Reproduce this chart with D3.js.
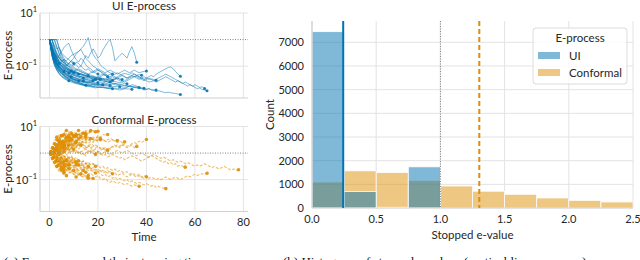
<!DOCTYPE html>
<html>
<head>
<meta charset="utf-8">
<script src="https://cdn.jsdelivr.net/npm/d3@7"></script>
<style>
  body { margin: 0; background: #fff; }
  svg { font-family: Lato, "Open Sans", sans-serif; }
  .tick text, .lbl { fill: #262626; }
</style>
</head>
<body>
<svg id="chart" width="640" height="260"></svg>
<script>
// E-process trajectories, log10 of the e-value at t = 0, 1, 2, ...
var uiPaths = [
  [0,-0.3,-0.55,-0.75,-0.9,-1.0,-1.1,-1.2,-1.25],
  [0,0,0,-0.25,-0.5,-0.7,-0.8,-0.95,-1.0,-1.1,-1.15,-1.2,-1.3],
  [0,-0.4,-0.7,-0.9,-1.05,-1.15,-1.25,-1.3,-1.38,-1.45,-1.5,-1.55,-1.6,-1.65,-1.68,-1.72],
  [0,0,-0.2,-0.35,-0.3,-0.5,-0.6,-0.7,-0.75,-0.85,-0.9],
  [0,0,0,0,-0.3,-0.55,-0.7,-0.85,-0.9,-0.95,-1.0,-0.85,-0.9,-1.0,-0.8,-0.6,-0.7,-0.5,-0.35,-0.5,-0.7,-0.6,-0.4,-0.25,-0.1,0.0,-0.3,-0.8,-0.7,-0.6,-0.52,-0.6,-0.7,-0.45,-0.27,-0.5,-0.85],
  [0,0,-0.3,-0.5,-0.65,-0.8,-0.85,-0.95,-0.9,-0.8,-0.7,-0.55,-0.45,-0.35,-0.25,-0.1,0.07,-0.3,-0.55,-0.7,-0.8,-0.95,-1.05,-1.1,-1.2,-1.25,-1.3],
  [0,-0.3,-0.55,-0.7,-0.6,-0.45,-0.3,-0.2,-0.14,-0.4,-0.6,-0.75,-0.85,-0.7,-0.8,-0.95,-1.05,-1.1,-1.2,-1.25,-1.3],
  [0,-0.35,-0.6,-0.8,-0.9,-0.85,-0.75,-0.8,-0.7,-0.6,-0.55,-0.5,-0.45,-0.37,-0.55,-0.7,-0.8,-0.9,-1.0,-1.05,-1.15,-1.2,-1.3,-1.35,-1.4],
  [0,-0.4,-0.65,-0.85,-1.0,-1.1,-1.15,-1.2,-1.25,-1.3,-1.32,-1.35,-1.4,-1.38,-1.42,-1.45,-1.4,-1.45,-1.5,-1.48,-1.5,-1.52,-1.48,-1.5,-1.45,-1.5,-1.55,-1.5,-1.45,-1.4,-1.35,-1.4,-1.45,-1.4,-1.35,-1.3,-1.35,-1.4,-1.45,-1.5,-1.45,-1.4,-1.35,-1.4,-1.3,-1.25,-1.2,-1.15,-1.1,-1.05,-1.03,-1.1,-1.2,-1.3,-1.38],
  [0,-0.45,-0.75,-0.95,-1.1,-1.2,-1.3,-1.35,-1.4,-1.45,-1.5,-1.52,-1.55,-1.58,-1.6,-1.62,-1.6,-1.58,-1.55,-1.5,-1.48,-1.45,-1.5,-1.55,-1.5,-1.45,-1.4,-1.45,-1.5,-1.55,-1.6,-1.55,-1.5,-1.45,-1.4,-1.38,-1.4,-1.45,-1.5,-1.55,-1.5,-1.45,-1.5,-1.55,-1.6,-1.55,-1.5,-1.45,-1.4,-1.45,-1.5,-1.55,-1.6,-1.55,-1.6,-1.65,-1.6,-1.65,-1.7,-1.75,-1.7,-1.75,-1.8,-1.78,-1.84],
  [0,-0.5,-0.8,-1.0,-1.15,-1.25,-1.35,-1.42,-1.48,-1.52,-1.55,-1.6,-1.62,-1.65,-1.68,-1.7,-1.72,-1.7,-1.68,-1.7,-1.72,-1.75,-1.72,-1.7,-1.65,-1.6,-1.55,-1.5,-1.45,-1.5,-1.55,-1.6,-1.55,-1.5,-1.45,-1.4,-1.35,-1.4,-1.45,-1.5,-1.55,-1.6,-1.58,-1.55,-1.5,-1.45,-1.4,-1.35,-1.3,-1.35,-1.4,-1.45,-1.5,-1.55,-1.6,-1.65,-1.7,-1.75,-1.7,-1.75,-1.8,-1.85,-1.82,-1.88,-1.9,-1.93],
  [0,-0.5,-0.85,-1.05,-1.2,-1.3,-1.38,-1.45,-1.5,-1.55,-1.6,-1.63,-1.66,-1.7,-1.72,-1.74,-1.76,-1.78,-1.8,-1.82,-1.8,-1.78,-1.8,-1.82,-1.84,-1.85,-1.83,-1.86,-1.88,-1.9,-1.88,-1.85,-1.8,-1.75,-1.7,-1.72,-1.75,-1.8,-1.85,-1.9,-1.88,-1.85,-1.9,-1.92,-1.95,-1.93,-1.95,-1.98,-2.0,-1.98,-2.0,-2.02,-2.03,-2.05,-2.07],
  [0,-0.45,-0.7,-0.9,-1.0,-1.1,-1.15,-1.2,-1.25,-1.3,-1.35,-1.38,-1.4,-1.45,-1.48,-1.5,-1.52,-1.55,-1.5,-1.45,-1.4,-1.35,-1.3,-1.35,-1.4,-1.45,-1.5,-1.45,-1.4,-1.35,-1.3,-1.28,-1.3,-1.32,-1.25,-1.3,-1.35,-1.32,-1.34],
  [0,-0.3,-0.55,-0.75,-0.9,-1.0,-1.05,-1.1,-1.15,-1.2,-1.22,-1.25,-1.3,-1.28,-1.32,-1.35,-1.38,-1.4,-1.38,-1.42,-1.45,-1.4,-1.35,-1.3,-1.35,-1.4,-1.35,-1.3,-1.25,-1.3,-1.35,-1.4,-1.45,-1.4,-1.35,-1.4,-1.45,-1.5,-1.45,-1.4,-1.45,-1.5,-1.48,-1.5,-1.53],
  [0,-0.55,-0.9,-1.1,-1.25,-1.35,-1.42,-1.48,-1.52,-1.56,-1.6,-1.63,-1.65,-1.68,-1.7,-1.72,-1.7,-1.73,-1.75,-1.72,-1.7,-1.68,-1.65,-1.6,-1.55,-1.6,-1.65,-1.7,-1.72,-1.75,-1.78,-1.8,-1.78,-1.75,-1.78,-1.8,-1.82,-1.85,-1.83,-1.85,-1.87,-1.85,-1.88,-1.89,-1.9],
  [0,-0.4,-0.7,-0.9,-1.05,-1.15,-1.25,-1.32,-1.38,-1.42,-1.46,-1.5,-1.53,-1.55,-1.58,-1.6,-1.62,-1.6,-1.58,-1.55,-1.58,-1.6,-1.63,-1.65,-1.68,-1.7,-1.68,-1.65,-1.68,-1.7,-1.72,-1.74,-1.75,-1.77,-1.78,-1.8,-1.79,-1.81,-1.82,-1.83],
  [0,-0.6,-0.95,-1.15,-1.3,-1.4,-1.47,-1.52,-1.56,-1.6,-1.63,-1.66,-1.68,-1.7,-1.72,-1.74,-1.75,-1.76,-1.77,-1.78,-1.79,-1.8,-1.78,-1.8,-1.82,-1.8,-1.82,-1.83,-1.84,-1.85,-1.84,-1.85,-1.86,-1.86,-1.87],
  [0,-0.5,-0.8,-1.0,-1.15,-1.25,-1.33,-1.4,-1.45,-1.48,-1.52,-1.55,-1.58,-1.6,-1.62,-1.64,-1.66,-1.68,-1.69,-1.7,-1.71,-1.72,-1.73,-1.74,-1.75,-1.76,-1.76,-1.77,-1.77,-1.78],
  [0,-0.45,-0.75,-0.95,-1.1,-1.2,-1.28,-1.35,-1.4,-1.45,-1.48,-1.52,-1.55,-1.57,-1.59,-1.61,-1.63,-1.64,-1.66,-1.67,-1.68,-1.69,-1.7],
  [0,-0.35,-0.6,-0.8,-0.95,-1.05,-1.12,-1.18,-1.24,-1.3,-1.34,-1.38,-1.42,-1.45,-1.48,-1.5,-1.52,-1.54,-1.55],
  [0,-0.4,-0.7,-0.9,-1.05,-1.15,-1.2],
  [0,0,0,-0.3,-0.55,-0.75,-0.9,-1.0,-1.1,-1.18,-1.25,-1.3,-1.36,-1.4,-1.45],
  [0,-0.3,-0.55,-0.75,-0.9,-1.0,-1.08,-1.15,-1.2,-1.25,-1.3,-1.33,-1.36,-1.4,-1.42,-1.45,-1.47,-1.5,-1.48,-1.5,-1.52,-1.55,-1.56,-1.58,-1.59,-1.6],
  [0,0,-0.3,-0.6,-0.9],
  [0,-0.5,-0.8,-1.0,-1.12,-1.2,-1.27,-1.32,-1.36,-1.4],
  [0,-0.6,-0.9,-1.1,-1.2,-1.28,-1.35,-1.4,-1.44,-1.48,-1.5,-1.53,-1.55],
  [0,-0.25,-0.45,-0.6,-0.7,-0.8,-0.75,-0.85,-0.95,-1.0,-1.05,-1.1,-1.15,-1.2,-1.25,-1.3,-1.35],
  [0,-0.3,-0.5,-0.65,-0.8,-0.9,-0.95,-1.0,-0.9,-0.8,-0.85,-0.95,-1.05,-1.0,-1.1,-1.15,-1.1,-1.2,-1.25,-1.2,-1.15,-1.2,-1.25,-1.3,-1.35,-1.3,-1.35,-1.4,-1.45,-1.48,-1.5],
  [0,-0.35,-0.6,-0.8,-0.95,-1.05,-1.1,-1.15,-1.2,-1.25,-1.2,-1.15,-1.1,-1.15,-1.2,-1.25,-1.3,-1.25,-1.2,-1.15,-1.1,-1.15,-1.2,-1.25,-1.2,-1.15,-1.2,-1.25,-1.3,-1.25,-1.2,-1.15,-1.2,-1.25,-1.2,-1.15,-1.2,-1.25,-1.22,-1.2,-1.18],
  [0,-0.2,-0.45,-0.65,-0.8,-0.92,-1.0,-1.08,-1.15,-1.2,-1.25],
  [0,-0.5,-0.75,-0.92,-1.05,-1.15,-1.22,-1.28,-1.33,-1.38,-1.42,-1.45,-1.48,-1.5,-1.52,-1.55,-1.57,-1.6,-1.6,-1.62,-1.63],
  [0,0,-0.25,-0.5,-0.7,-0.85,-0.95,-1.05,-1.12,-1.18],
  [0,-0.35,-0.65,-0.85,-1.0,-1.12,-1.2,-1.27,-1.33,-1.38,-1.43,-1.47,-1.5,-1.53,-1.56,-1.58,-1.6,-1.62,-1.64,-1.66,-1.67,-1.68,-1.7,-1.71,-1.72,-1.73],
  [0,-0.4,-0.65,-0.8,-0.9,-0.98,-1.05,-1.1,-1.15,-1.18,-1.22,-1.25,-1.28,-1.3,-1.32,-1.35,-1.37,-1.4,-1.42,-1.44,-1.45,-1.47,-1.5,-1.52,-1.53,-1.55,-1.57,-1.58,-1.6,-1.62,-1.63,-1.65,-1.66],
  [0,-0.25,-0.5,-0.68,-0.82,-0.9,-0.98,-1.05,-1.1,-1.15,-1.2,-1.22,-1.26,-1.3,-1.33,-1.36,-1.38,-1.4,-1.42,-1.45,-1.47,-1.49],
  [0,-0.6,-0.95,-1.15,-1.28,-1.38,-1.45,-1.5,-1.55],
  [0,-0.3,-0.5,-0.7,-0.85,-0.95,-1.02,-1.1,-1.15,-1.2,-1.25,-1.28,-1.3,-1.33,-1.35,-1.38,-1.4,-1.43,-1.45,-1.47,-1.5,-1.52,-1.55,-1.57,-1.6,-1.62,-1.64,-1.65,-1.67,-1.68,-1.7,-1.72,-1.73,-1.75,-1.76,-1.78,-1.79,-1.8],
  [0,0,0,0,-0.35,-0.6,-0.8,-0.95,-1.05,-1.12,-1.18,-1.23,-1.28,-1.32,-1.36,-1.4,-1.43,-1.46,-1.48,-1.5],
  [0,-0.45,-0.72,-0.9,-1.02,-1.1,-1.18,-1.24,-1.3,-1.35,-1.4,-1.44,-1.48,-1.52,-1.55],
  [0,-0.15,-0.35,-0.55,-0.7,-0.8,-0.88,-0.95,-1.0,-1.05,-1.1,-1.14,-1.18,-1.22,-1.25,-1.28,-1.31,-1.34,-1.37,-1.4,-1.42,-1.44,-1.46,-1.48,-1.5,-1.52,-1.53],
  [0,-0.55,-0.85,-1.05,-1.18,-1.28,-1.36,-1.43,-1.48,-1.53,-1.57,-1.6,-1.63,-1.66,-1.68,-1.7,-1.72,-1.74,-1.76,-1.78,-1.79,-1.8,-1.81,-1.82,-1.83,-1.84,-1.85]
];

var confPaths = [
  [0,0.15,0.3,0.45,0.55,0.66],
  [0,0.1,0.25,0.2,0.35,0.45,0.5,0.6,0.68],
  [0,-0.1,0.05,0.2,0.3,0.25,0.4,0.5,0.45,0.55,0.6,0.65,0.7,0.68,0.72,0.73],
  [0,0.1,0.2,0.15,0.3,0.4,0.35,0.5,0.55,0.6,0.58,0.65,0.7,0.72,0.75,0.7,0.75,0.78,0.8,0.78,0.82],
  [0,-0.15,-0.3,-0.4,-0.5,-0.55,-0.6,-0.65,-0.7,-0.75,-0.8,-0.85,-0.82,-0.88,-0.9,-0.92,-0.95,-0.93,-0.96],
  [0,-0.2,-0.35,-0.5,-0.6,-0.72,-0.8,-0.85],
  [0,0.2,0.35,0.5,0.45],
  [0,-0.1,-0.2,-0.3,-0.25,-0.4,-0.5,-0.45,-0.55,-0.6,-0.65],
  [0,0.1,0.0,0.15,0.25,0.2,0.3],
  [0,0.05,-0.1,-0.05,0.1,0.0,0.15,0.25,0.3,0.2,0.35,0.4],
  [0,-0.05,0.1,0.2,0.15,0.3,0.25,0.4,0.5,0.45,0.55,0.6,0.55,0.62],
  [0,-0.2,-0.1,-0.25,-0.35,-0.3,-0.45,-0.4,-0.5,-0.55,-0.5,-0.6,-0.65,-0.7,-0.68,-0.72],
  [0,0.15,0.1,0.25,0.4,0.35,0.5,0.6,0.55,0.65,0.7,0.65],
  [0,-0.1,-0.25,-0.2,-0.35,-0.3,-0.4],
  [0,0.1,0.2,0.1,0.25,0.3,0.2,0.35,0.3,0.4,0.35,0.45,0.5,0.45,0.55,0.5,0.6,0.55],
  [0,-0.05,0.05,-0.1,-0.2,-0.15,-0.3,-0.25,-0.35,-0.4,-0.35,-0.45,-0.5,-0.45,-0.55,-0.6,-0.55,-0.65,-0.7,-0.75],
  [0,0.1,0.05,0.15,0.1,0.2,0.3,0.25,0.35,0.3,0.4,0.35,0.3,0.4,0.45,0.4,0.5,0.45,0.55,0.5,0.45,0.5],
  [0,0.1,0.2,0.3,0.25,0.4],
  [0,-0.1,-0.2,-0.15,-0.3,-0.4,-0.35,-0.5,-0.45],
  [0,0.05,0.1,0.2,0.15,0.25,0.35,0.3,0.4,0.5],
  [0,0.1,-0.05,0.05,-0.1,0.0,-0.15,-0.05,-0.2,-0.1,-0.25,-0.15,-0.3],
  [0,-0.15,-0.25,-0.35,-0.3,-0.45,-0.55,-0.5,-0.6,-0.7,-0.65,-0.75,-0.8,-0.78],
  [0,0.15,0.25,0.2,0.35,0.3,0.45,0.55,0.5,0.6,0.58,0.62,0.7,0.65,0.6,0.68],
  [0,0.05,0.15,0.1,0.2,0.25,0.2,0.3,0.28,0.35,0.3,0.25,0.3,0.35,0.3,0.25,0.3,0.2,0.25,0.3,0.25,0.2,0.15,0.2,0.1],
  [0,-0.1,0.0,0.1,0.05,-0.05,0.1,0.15,0.05,0.2,0.1,0.0,0.05,-0.05,0.0,-0.1,0.05,0.1,0.0,-0.05],
  [0,0.1,0.2,0.15,0.3,0.35,0.3,0.45,0.4,0.55,0.5,0.6,0.7,0.65,0.75],
  [0,-0.1,-0.05,-0.15,-0.1,-0.2,-0.3,-0.25,-0.35,-0.3,-0.25,-0.35,-0.4,-0.35,-0.45,-0.4,-0.5],
  [0,0.1,0.05,-0.05,0.05,0.15,0.1,0.2,0.1,0.05,0.15],
  [0,0.05,0.0,0.1,0.05,0.15,0.2,0.1,0.2,0.25,0.35,0.3,0.4,0.35,0.45,0.5,0.55,0.5,0.6,0.55,0.65,0.6,0.7,0.68,0.7],
  [0,0.1,0.05,0.15,0.1,0.2,0.15,0.25,0.2,0.3,0.25,0.35,0.3,0.25,0.35,0.4,0.35,0.45,0.4,0.5,0.45,0.55,0.5,0.45,0.5,0.55,0.5,0.45,0.47],
  [0,-0.05,0.05,0.0,0.1,0.05,0.15,0.1,0.2,0.15,0.25,0.2,0.15,0.25,0.3,0.2,0.25,0.35,0.3,0.2,0.25,0.15,0.2,0.1,0.15,0.2,0.25,0.3,0.25,0.2,0.3,0.25,0.2,0.25,0.3,0.2,0.25],
  [0,0.05,0.1,0.05,0.15,0.1,0.2,0.15,0.1,0.2,0.25,0.2,0.3,0.25,0.2,0.15,0.25,0.2,0.1,0.15,0.05,0.1,0.15,0.1,0.2,0.15,0.25,0.2,0.3,0.25,0.35,0.3,0.25,0.3,0.35,0.4,0.35,0.45,0.4,0.45,0.51],
  [0,-0.1,-0.05,-0.15,-0.2,-0.15,-0.25,-0.3,-0.25,-0.35,-0.4,-0.35,-0.45,-0.5,-0.45,-0.55,-0.6,-0.55,-0.65,-0.6,-0.7,-0.65,-0.75,-0.7,-0.65,-0.75,-0.8,-0.75,-0.85,-0.8,-0.75,-0.85,-0.9,-0.85,-0.8,-0.85,-0.9,-0.85,-0.9,-0.95,-0.89],
  [0,-0.1,-0.2,-0.15,-0.3,-0.35,-0.3,-0.45,-0.5,-0.45,-0.55,-0.6,-0.65,-0.6,-0.7,-0.75,-0.8,-0.75,-0.85,-0.9,-0.85,-0.95,-1.0,-0.95,-1.05,-1.1,-1.05,-1.1,-1.15,-1.1,-1.15,-1.2,-1.15,-1.2,-1.25,-1.2,-1.22,-1.25],
  [0,-0.05,-0.15,-0.1,-0.2,-0.25,-0.2,-0.3,-0.35,-0.4,-0.35,-0.45,-0.5,-0.55,-0.5,-0.6,-0.65,-0.6,-0.7,-0.75,-0.7,-0.8,-0.85,-0.8,-0.9,-0.85,-0.95,-0.9,-1.0,-0.95,-1.0,-1.05,-1.0,-1.1,-1.05,-1.1,-1.15,-1.1,-1.15,-1.2,-1.15,-1.2,-1.25,-1.2,-1.3,-1.25,-1.3,-1.32,-1.34],
  [0,0.05,-0.05,0.0,0.1,0.05,0.0,0.1,0.15,0.1,0.05,0.1,0.0,0.05,-0.05,0.0,0.1,0.05,0.0,-0.05,0.05,0.0,-0.1,-0.05,-0.15,-0.1,-0.05,-0.1,-0.15,-0.2,-0.15,-0.25,-0.2,-0.15,-0.1,-0.15,-0.2,-0.25,-0.3,-0.25,-0.2,-0.15,-0.1,-0.15,-0.2,-0.25,-0.3,-0.35,-0.3,-0.4,-0.35,-0.45,-0.4,-0.5,-0.45,-0.5,-0.53],
  [0,-0.05,0.0,-0.1,-0.05,-0.15,-0.1,-0.2,-0.15,-0.25,-0.2,-0.3,-0.25,-0.35,-0.3,-0.4,-0.35,-0.45,-0.4,-0.5,-0.45,-0.55,-0.5,-0.6,-0.55,-0.6,-0.65,-0.6,-0.7,-0.65,-0.7,-0.75,-0.7,-0.8,-0.75,-0.8,-0.85,-0.8,-0.9,-0.85,-0.9,-0.95,-0.9,-0.95,-1.0,-0.95,-1.0,-0.95,-0.9,-0.95,-1.0,-0.95,-0.9,-0.95,-1.0,-0.95,-0.9,-0.85,-0.9,-0.85,-0.8,-0.85,-0.8,-0.78,-0.8,-0.76],
  [0,0.05,0.1,0.05,0.15,0.1,0.05,0.1,0.0,0.05,0.1,0.05,0.0,0.05,0.1,0.15,0.1,0.05,0.1,0.0,0.05,-0.05,0.0,0.05,0.0,-0.05,0.0,0.05,0.1,0.05,0.0,0.05,0.1,0.05,0.0,-0.05,-0.1,-0.05,0.0,-0.05,-0.1,-0.15,-0.1,-0.05,-0.1,-0.15,-0.2,-0.15,-0.2,-0.25,-0.3,-0.25,-0.3,-0.35,-0.3,-0.35,-0.4,-0.35,-0.4,-0.45,-0.5,-0.45,-0.5,-0.45,-0.4,-0.45,-0.5,-0.55,-0.5,-0.55,-0.6,-0.55,-0.5,-0.55,-0.6,-0.65,-0.6,-0.65,-0.63],
  [0,0.2,0.4,0.55,0.7,0.65,0.75,0.85],
  [0,-0.2,-0.4,-0.55,-0.7,-0.6,-0.75],
  [0,0.1,0.3,0.25,0.4],
  [0,-0.1,-0.3,-0.45,-0.4,-0.55],
  [0,0.15,0.05,0.2,0.1,0.25,0.15],
  [0,-0.15,-0.05,-0.2,-0.3,-0.2,-0.35,-0.25],
  [0,0.2,0.3,0.45,0.6,0.7,0.6,0.72,0.8,0.75],
  [0,0.1,0.25,0.35,0.3,0.45,0.55,0.65,0.6,0.7,0.8,0.75,0.85],
  [0,-0.1,0.05,-0.05,0.1,0.2,0.1,0.2,0.3],
  [0,-0.25,-0.4,-0.35,-0.5,-0.6,-0.55,-0.65,-0.75,-0.7,-0.8,-0.9],
  [0,0.05,0.15,0.3,0.4,0.35,0.5,0.45,0.6,0.7,0.65,0.75,0.7,0.8,0.75,0.85,0.8,0.85],
  [0,-0.05,-0.15,-0.25,-0.2,-0.35,-0.3,-0.45,-0.4,-0.5,-0.45,-0.55,-0.6,-0.55,-0.65],
  [0,0.1,0.2,0.15,0.05,0.15,0.25,0.2,0.1,0.2,0.3,0.25,0.35,0.3],
  [0,-0.1,-0.2,-0.3,-0.4,-0.35,-0.45,-0.55,-0.5,-0.6,-0.7,-0.65,-0.75,-0.85,-0.8,-0.9,-0.85],
  [0,0.15,0.3,0.2,0.35,0.45,0.4,0.5,0.6,0.55,0.65],
  [0,0.05,-0.05,0.1,0.0,-0.1,0.05],
  [0,-0.15,-0.3,-0.2,-0.35,-0.45,-0.4,-0.5,-0.6],
  [0,0.2,0.1,0.25,0.35,0.3,0.4,0.5,0.45,0.55,0.65,0.6,0.7,0.75,0.7,0.8,0.75,0.8,0.85,0.8],
  [0,0.1,0.0,0.1,0.2,0.15,0.25],
  [0,-0.05,0.05,0.15,0.1,0.2,0.3,0.2,0.3,0.4,0.35,0.45],
  [0,-0.2,-0.3,-0.25,-0.4,-0.5,-0.45,-0.6,-0.55,-0.65,-0.7,-0.8,-0.75,-0.85,-0.9,-0.85,-0.95],
  [0,0.1,0.2,0.35,0.3,0.4,0.5,0.6,0.55,0.65,0.75,0.7],
  [0,-0.1,0.0,-0.15,-0.05,-0.2,-0.1,-0.25,-0.15,-0.3,-0.2,-0.35],
  [0,0.15,0.25,0.35,0.3,0.45,0.5,0.45,0.6],
  [0,0.05,0.1,0.0,-0.1,-0.05,-0.15,-0.1,-0.2,-0.15,-0.25,-0.3,-0.25,-0.35,-0.3,-0.4,-0.35,-0.45,-0.4,-0.5],
  [0,0.1,0.2,0.3,0.4,0.5,0.45,0.55,0.5,0.6,0.55,0.65,0.6,0.55,0.6,0.65,0.6,0.55,0.5,0.55,0.6,0.55],
  [0,-0.1,-0.2,-0.15,-0.25,-0.2,-0.3,-0.4,-0.35,-0.45,-0.5,-0.45],
  [0,0.1,0.15,0.05,0.15,0.25,0.2,0.3,0.25,0.35,0.45,0.4,0.5,0.55,0.5,0.6],
  [0,-0.15,-0.1,-0.2,-0.15,-0.25,-0.2,-0.3,-0.25,-0.35,-0.3,-0.4,-0.45,-0.4,-0.5,-0.55,-0.5,-0.6,-0.55,-0.65,-0.6,-0.7,-0.65,-0.7,-0.75,-0.7,-0.78],
  [0,0.1,0.05,0.15,0.2,0.15,0.25,0.3,0.25,0.35,0.3,0.4,0.35,0.45,0.4,0.5,0.45,0.55,0.5,0.45,0.5,0.55,0.5,0.45,0.4,0.45,0.5,0.45,0.4,0.45,0.4,0.42],
  [0,0.25,0.45,0.6],
  [0,-0.2,-0.35,-0.5],
  [0,0.1,0.3,0.5,0.45,0.6,0.7],
  [0,-0.1,-0.25,-0.45,-0.6,-0.55,-0.7],
  [0,0.05,0.2,0.15,0.3,0.25,0.4,0.35,0.45,0.4,0.5,0.45,0.55],
  [0,-0.05,-0.2,-0.1,-0.25,-0.15,-0.3,-0.2,-0.35,-0.25,-0.4,-0.3,-0.45],
  [0,0.1,0.2,0.3],
  [0,-0.1,-0.2,-0.3],
  [0,0.15,0.3,0.4,0.5],
  [0,-0.15,-0.3,-0.4,-0.45],
  [0,0.05,0.15,0.25,0.35,0.45,0.4],
  [0,-0.05,-0.15,-0.25,-0.35,-0.45,-0.5],
  [0,0.2,0.15,0.3,0.25,0.35],
  [0,-0.2,-0.15,-0.3,-0.25,-0.35],
  [0,0.1,0.0,0.1,0.05],
  [0,-0.1,0.0,-0.1,-0.05],
  [0,0.2,0.35,0.5,0.6,0.55,0.65,0.6],
  [0,-0.2,-0.35,-0.45,-0.55,-0.5,-0.6],
  [0,0.1,0.2,0.15,0.25,0.35,0.3,0.4,0.45],
  [0,-0.1,-0.15,-0.25,-0.2,-0.3,-0.4,-0.35,-0.45],
  [0,0.15,0.2,0.1,0.2,0.3,0.25],
  [0,-0.05,0.05,0.15,0.25,0.2,0.3,0.4,0.35,0.5],
  [0,0.05,-0.1,-0.2,-0.15,-0.25,-0.35,-0.3],
  [0,0.25,0.4,0.5,0.55,0.65],
  [0,-0.25,-0.4,-0.5,-0.6,-0.65],
  [0,0.1,0.25,0.2,0.3,0.45,0.55,0.5,0.6,0.7,0.65]
];

// histogram of stopped e-values
var binEdges = [0, 0.25, 0.5, 0.75, 1.0, 1.25, 1.5, 1.75, 2.0, 2.25, 2.5];
var uiCounts = [7450, 700, 30, 1740, 0, 0, 0, 0, 0, 0];
var confCounts = [1100, 1570, 1500, 1170, 930, 710, 580, 425, 325, 255];
var uiMean = 0.243;
var confMean = 1.303;

var timeTicks = [0, 20, 40, 60, 80];
var histXTicks = [0, 0.5, 1.0, 1.5, 2.0, 2.5];
var histYTicks = [0, 1000, 2000, 3000, 4000, 5000, 6000, 7000];

var blue = '#0173b2', orange = '#de8f05';
var gridCol = '#e3e3e3', spineCol = '#d0d0d0';

var svg = d3.select('#chart');

function logTicks(g, y, x0) {
  // 10^1 and 10^-1 labels drawn by hand for the superscript
  [[1, '1'], [-1, '\u22121']].forEach(function(p) {
    var t = g.append('text').attr('class', 'lbl')
      .attr('x', x0).attr('y', y(Math.pow(10, p[0])) + 4)
      .attr('text-anchor', 'end').style('font-size', '11px');
    t.append('tspan').text('10');
    t.append('tspan').attr('dy', -5).style('font-size', '7.5px').text(p[1]);
  });
}

function tracePanel(box, paths, color, dashed, title, showX) {
  var x = d3.scaleLinear().domain([-3.9, 81.9]).range([box.x0, box.x1]);
  var y = d3.scaleLog().domain([Math.pow(10, -2.2), 10]).range([box.y1, box.y0]);
  var g = svg.append('g');

  g.selectAll('.vg').data(timeTicks).enter().append('line')
    .attr('x1', function(d) { return x(d); }).attr('x2', function(d) { return x(d); })
    .attr('y1', box.y0).attr('y2', box.y1)
    .attr('stroke', gridCol).attr('stroke-width', 1);
  g.selectAll('.hg').data([10, 0.1]).enter().append('line')
    .attr('x1', box.x0).attr('x2', box.x1)
    .attr('y1', function(d) { return y(d); }).attr('y2', function(d) { return y(d); })
    .attr('stroke', gridCol).attr('stroke-width', 1);

  g.append('line').attr('x1', box.x0).attr('x2', box.x0).attr('y1', box.y0).attr('y2', box.y1)
    .attr('stroke', spineCol).attr('stroke-width', 1.2);
  g.append('line').attr('x1', box.x0).attr('x2', box.x1).attr('y1', box.y1).attr('y2', box.y1)
    .attr('stroke', spineCol).attr('stroke-width', 1.2);

  var line = d3.line()
    .x(function(d, i) { return x(i); })
    .y(function(d) { return y(Math.pow(10, d)); });

  g.selectAll('.path').data(paths).enter().append('path')
    .attr('d', line)
    .attr('fill', 'none')
    .attr('stroke', color)
    .attr('stroke-opacity', dashed ? 0.55 : 0.5)
    .attr('stroke-width', dashed ? 1.15 : 1)
    .attr('stroke-dasharray', dashed ? '3,1.6' : null);

  g.selectAll('.end').data(paths).enter().append('circle')
    .attr('cx', function(d) { return x(d.length - 1); })
    .attr('cy', function(d) { return y(Math.pow(10, d[d.length - 1])); })
    .attr('r', dashed ? 1.8 : 1.5)
    .attr('fill', color)
    .attr('fill-opacity', 0.9);

  // threshold at 1
  g.append('line').attr('x1', box.x0).attr('x2', box.x1)
    .attr('y1', y(1)).attr('y2', y(1))
    .attr('stroke', '#808080').attr('stroke-width', 1).attr('stroke-dasharray', '1,1.5');

  logTicks(g, y, box.x0 - 3);

  g.append('text').attr('class', 'lbl')
    .attr('x', (box.x0 + box.x1) / 2).attr('y', box.y0 - 3)
    .attr('text-anchor', 'middle').style('font-size', '11.5px').text(title);

  g.append('text').attr('class', 'lbl')
    .attr('transform', 'translate(12,' + ((box.y0 + box.y1) / 2) + ') rotate(-90)')
    .attr('text-anchor', 'middle').style('font-size', '11.5px').text('E-process');

  if (showX) {
    g.selectAll('.xt').data(timeTicks).enter().append('text').attr('class', 'lbl')
      .attr('x', function(d) { return x(d); }).attr('y', box.y1 + 14)
      .attr('text-anchor', 'middle').style('font-size', '11px')
      .text(function(d) { return d; });
    g.append('text').attr('class', 'lbl')
      .attr('x', (box.x0 + box.x1) / 2).attr('y', box.y1 + 29)
      .attr('text-anchor', 'middle').style('font-size', '11.5px').text('Time');
  }
}

tracePanel({x0: 40, x1: 248, y0: 13, y1: 98}, uiPaths, blue, false, 'UI E-process', false);
tracePanel({x0: 40, x1: 248, y0: 126.5, y1: 211.5}, confPaths, orange, true, 'Conformal E-process', true);

// histogram panel
var hb = {x0: 312, x1: 633, y0: 21, y1: 208};
var hx = d3.scaleLinear().domain([0, 2.5]).range([hb.x0, hb.x1]);
var hy = d3.scaleLinear().domain([0, 7900]).range([hb.y1, hb.y0]);
var hg = svg.append('g');

hg.selectAll('.vg').data(histXTicks).enter().append('line')
  .attr('x1', function(d) { return hx(d); }).attr('x2', function(d) { return hx(d); })
  .attr('y1', hb.y0).attr('y2', hb.y1)
  .attr('stroke', gridCol).attr('stroke-width', 1);
hg.selectAll('.hg').data(histYTicks).enter().append('line')
  .attr('x1', hb.x0).attr('x2', hb.x1)
  .attr('y1', function(d) { return hy(d); }).attr('y2', function(d) { return hy(d); })
  .attr('stroke', gridCol).attr('stroke-width', 1);

function bars(counts, color) {
  hg.selectAll(null).data(counts).enter().append('rect')
    .attr('x', function(d, i) { return hx(binEdges[i]); })
    .attr('width', function(d, i) { return hx(binEdges[i + 1]) - hx(binEdges[i]); })
    .attr('y', function(d) { return hy(d); })
    .attr('height', function(d) { return hy(0) - hy(d); })
    .attr('fill', color).attr('fill-opacity', 0.5)
    .attr('stroke', '#fff').attr('stroke-width', 0.8);
}
bars(confCounts, orange);
bars(uiCounts, blue);

hg.append('line').attr('x1', hb.x0).attr('x2', hb.x0).attr('y1', hb.y0).attr('y2', hb.y1)
  .attr('stroke', spineCol).attr('stroke-width', 1.2);
hg.append('line').attr('x1', hb.x0).attr('x2', hb.x1).attr('y1', hb.y1).attr('y2', hb.y1)
  .attr('stroke', spineCol).attr('stroke-width', 1.2);

hg.append('line').attr('x1', hx(uiMean)).attr('x2', hx(uiMean)).attr('y1', hb.y0).attr('y2', hb.y1)
  .attr('stroke', blue).attr('stroke-width', 2);
hg.append('line').attr('x1', hx(1)).attr('x2', hx(1)).attr('y1', hb.y0).attr('y2', hb.y1)
  .attr('stroke', '#808080').attr('stroke-width', 1).attr('stroke-dasharray', '1,1.5');
hg.append('line').attr('x1', hx(confMean)).attr('x2', hx(confMean)).attr('y1', hb.y0).attr('y2', hb.y1)
  .attr('stroke', orange).attr('stroke-width', 2).attr('stroke-dasharray', '5,3');

hg.selectAll('.xt').data(histXTicks).enter().append('text').attr('class', 'lbl')
  .attr('x', function(d) { return hx(d); }).attr('y', hb.y1 + 15)
  .attr('text-anchor', 'middle').style('font-size', '11px')
  .text(function(d) { return d3.format('.1f')(d); });
hg.selectAll('.yt').data(histYTicks).enter().append('text').attr('class', 'lbl')
  .attr('x', hb.x0 - 8).attr('y', function(d) { return hy(d) + 4; })
  .attr('text-anchor', 'end').style('font-size', '11px')
  .text(function(d) { return d; });
hg.append('text').attr('class', 'lbl')
  .attr('x', (hb.x0 + hb.x1) / 2).attr('y', hb.y1 + 31)
  .attr('text-anchor', 'middle').style('font-size', '11.5px').text('Stopped e-value');
hg.append('text').attr('class', 'lbl')
  .attr('transform', 'translate(274,' + ((hb.y0 + hb.y1) / 2) + ') rotate(-90)')
  .attr('text-anchor', 'middle').style('font-size', '11.5px').text('Count');

// legend
var lg = hg.append('g');
lg.append('rect').attr('x', 533).attr('y', 28).attr('width', 94).attr('height', 56).attr('rx', 3)
  .attr('fill', '#fff').attr('fill-opacity', 0.85).attr('stroke', '#dcdcdc');
lg.append('text').attr('class', 'lbl').attr('x', 580).attr('y', 42)
  .attr('text-anchor', 'middle').style('font-size', '11.5px').text('E-process');
[['UI', blue, 55.5], ['Conformal', orange, 72.5]].forEach(function(e) {
  lg.append('rect').attr('x', 538).attr('y', e[2] - 3.5).attr('width', 22).attr('height', 7)
    .attr('fill', e[1]).attr('fill-opacity', 0.5);
  lg.append('text').attr('class', 'lbl').attr('x', 569).attr('y', e[2] + 4)
    .style('font-size', '11.5px').text(e[0]);
});

// captions, cut by the bottom edge as in the source figure
svg.append('text').attr('x', 4).attr('y', 266)
  .style('font-family', '"Liberation Serif", "DejaVu Serif", serif').style('font-size', '13px')
  .attr('fill', '#111').text('(a) E-processes and their stopping times');
svg.append('text').attr('x', 283).attr('y', 266)
  .style('font-family', '"Liberation Serif", "DejaVu Serif", serif').style('font-size', '13px')
  .attr('fill', '#111').text('(b) Histogram of stopped e-values (vertical lines = means)');
</script>
</body>
</html>
